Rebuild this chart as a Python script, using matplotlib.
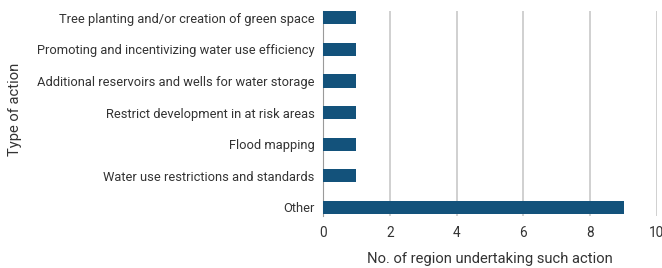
import matplotlib
matplotlib.use("Agg")
import matplotlib.pyplot as plt

# data (top to bottom)
actions = [
    "Tree planting and/or creation of green space",
    "Promoting and incentivizing water use efficiency",
    "Additional reservoirs and wells for water storage",
    "Restrict development in at risk areas",
    "Flood mapping",
    "Water use restrictions and standards",
    "Other",
]
counts = [1, 1, 1, 1, 1, 1, 9]
xticks = [0, 2, 4, 6, 8, 10]

plt.rcParams['font.family'] = ['Roboto', 'DejaVu Sans']
fs = 9.3
title_fs = 10.6

fig = plt.figure(figsize=(6.62, 2.68), dpi=100)
ax = fig.add_axes([323 / 662, 1 - 216 / 268, 334 / 662, 205 / 268])

ypos = list(range(len(actions)))
ax.barh(ypos, counts, height=0.42, color="#13527b", zorder=3)

ax.set_xlim(0, 10)
ax.set_ylim(6.27, -0.215)
ax.set_xticks(xticks)
ax.set_yticks(ypos)
ax.set_yticklabels(actions, fontsize=fs, color="#333333")
ax.tick_params(axis="x", labelsize=fs + 0.5, colors="#333333", length=0, pad=7)
ax.tick_params(axis="y", length=0, pad=6)

ax.grid(axis="x", color="#c8c8c8", linewidth=1.2, zorder=0)
for side in ["top", "right", "bottom"]:
    ax.spines[side].set_visible(False)
ax.spines["left"].set_color("#9a9a9a")

ax.set_xlabel("No. of region undertaking such action", fontsize=title_fs,
              color="#333333", labelpad=9)
fig.text(15 / 662, 1 - 109 / 268, "Type of action", rotation=90,
         fontsize=title_fs, color="#333333", ha="center", va="center")

fig.savefig("out.png", dpi=100)
